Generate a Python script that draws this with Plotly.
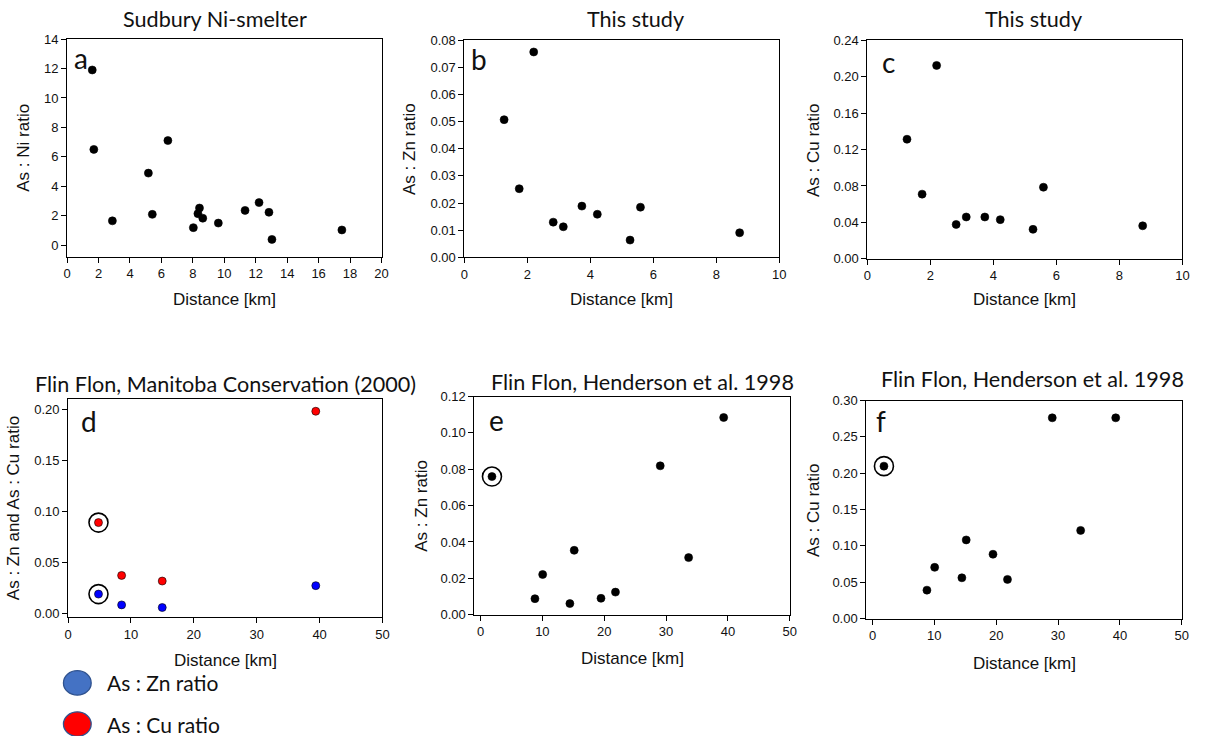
import plotly.graph_objects as go

# ---------------- data ----------------
# (a) Sudbury Ni-smelter
a_dist = [1.60, 1.70, 2.88, 5.17, 5.42, 6.41, 8.03, 8.32, 8.42, 8.63, 9.62, 11.32, 12.21, 12.84, 13.03, 17.48]
a_as_ni = [11.9, 6.51, 1.66, 4.90, 2.10, 7.11, 1.20, 2.15, 2.53, 1.84, 1.51, 2.37, 2.90, 2.24, 0.40, 1.04]
# (b), (c) This study
bc_dist = [1.26, 1.74, 2.20, 2.82, 3.14, 3.73, 4.22, 5.26, 5.59, 8.74]
b_as_zn = [0.0507, 0.0253, 0.0756, 0.0130, 0.0113, 0.0189, 0.0159, 0.0064, 0.0185, 0.0091]
c_as_cu = [0.1313, 0.0710, 0.2124, 0.0377, 0.0459, 0.0459, 0.0430, 0.0323, 0.0786, 0.0362]
# (d) Flin Flon, Manitoba Conservation (2000)
d_dist = [4.83, 8.51, 14.97, 39.39]
d_as_zn = [0.0186, 0.0080, 0.0054, 0.0269]
d_as_cu = [0.0888, 0.0369, 0.0314, 0.1981]
d_circled = [0]
# (e), (f) Flin Flon, Henderson et al. 1998
ef_dist = [1.85, 8.80, 10.05, 14.45, 15.15, 19.48, 21.82, 29.06, 33.65, 39.32]
e_as_zn = [0.0760, 0.0088, 0.0221, 0.0061, 0.0354, 0.0090, 0.0124, 0.0819, 0.0314, 0.1085]
f_as_cu = [0.2097, 0.0391, 0.0705, 0.0561, 0.1082, 0.0885, 0.0539, 0.2762, 0.1213, 0.2762]
ef_circled = [0]

titles = ["Sudbury Ni-smelter", "This study", "This study",
          "Flin Flon, Manitoba Conservation (2000)",
          "Flin Flon, Henderson et al. 1998", "Flin Flon, Henderson et al. 1998"]
letters = ["a", "b", "c", "d", "e", "f"]
ytitles = ["As : Ni ratio", "As : Zn ratio", "As : Cu ratio",
           "As : Zn and As : Cu ratio", "As : Zn ratio", "As : Cu ratio"]
legend_names = ["As : Zn ratio", "As : Cu ratio"]

# ---------------- layout geometry ----------------
PAGE_W, PAGE_H = 1214, 752
OFF = 8  # default page body margin
W, H = PAGE_W - 2 * OFF, PAGE_H - 2 * OFF


def px(p):
    return (p - OFF) / W


def py(p):
    return 1 - (p - OFF) / H


# plot frames in page pixels: (left, right, top, bottom)
frames = [(71.7, 389.0, 40.7, 263.0),
          (472.7, 790.5, 41.7, 263.7),
          (879.3, 1197.3, 42.0, 265.0),
          (72.7, 390.0, 408.3, 631.0),
          (482.7, 801.0, 405.7, 628.3),
          (878.3, 1196.7, 409.7, 632.3)]
xranges = [[0, 20], [0, 10], [0, 10], [0, 50], [-1.0, 50], [-1.0, 50]]
xdticks = [2, 2, 2, 10, 10, 10]
yranges = [[-0.78, 14], [0, 0.08], [0, 0.24], [-0.0042, 0.21], [0, 0.12], [0, 0.30]]
ydticks = [2, 0.01, 0.04, 0.05, 0.02, 0.05]
yformats = ["d", ".2f", ".2f", ".2f", ".2f", ".2f"]
xtitle_y = [307, 307, 307, 675, 673, 678]
ytitle_x = [28, 418, 825, 17, 430, 825]
title_pos = [(221, 20), (645, 20), (1047, 20), (232, 393), (652, 391), (1046, 388)]
letter_pos = [(86, 60), (487, 61), (901, 64), (94, 431), (505, 430), (893, 431)]

ARIAL = "Arial, Liberation Sans, sans-serif"
CAL = "Lato, Carlito, Calibri, sans-serif"

fig = go.Figure()


def dot(x, y, xa, ya, color="black", size=8):
    fig.add_trace(go.Scatter(x=x, y=y, mode="markers", xaxis=xa, yaxis=ya,
                             marker=dict(color=color, size=size,
                                         line=dict(color="black", width=0.6)),
                             showlegend=False, hoverinfo="x+y"))


def ring(x, y, xa, ya):
    fig.add_trace(go.Scatter(x=x, y=y, mode="markers", xaxis=xa, yaxis=ya,
                             marker=dict(symbol="circle-open", color="black", size=19,
                                         line=dict(width=1.6)),
                             showlegend=False, hoverinfo="skip"))


dot(a_dist, a_as_ni, "x", "y")
dot(bc_dist, b_as_zn, "x2", "y2")
dot(bc_dist, c_as_cu, "x3", "y3")
ring([d_dist[i] for i in d_circled] * 2,
     [d_as_cu[i] for i in d_circled] + [d_as_zn[i] for i in d_circled], "x4", "y4")
dot(d_dist, d_as_cu, "x4", "y4", color="#ff0000")
dot(d_dist, d_as_zn, "x4", "y4", color="#0000ff")
ring([ef_dist[i] for i in ef_circled], [e_as_zn[i] for i in ef_circled], "x5", "y5")
dot(ef_dist, e_as_zn, "x5", "y5")
ring([ef_dist[i] for i in ef_circled], [f_as_cu[i] for i in ef_circled], "x6", "y6")
dot(ef_dist, f_as_cu, "x6", "y6")

annotations = []
layout = {}
for i in range(6):
    l, r, t, b = frames[i]
    sfx = "" if i == 0 else str(i + 1)
    common = dict(showline=True, linecolor="black", linewidth=1, mirror=True,
                  ticks="outside", ticklen=5, tickwidth=1, tickcolor="black",
                  showgrid=False, zeroline=False,
                  tickfont=dict(family=ARIAL, size=13, color="#111"))
    layout["xaxis" + sfx] = dict(common, domain=[px(l), px(r)], anchor="y" + sfx,
                                 range=xranges[i], tick0=0, dtick=xdticks[i])
    layout["yaxis" + sfx] = dict(common, domain=[py(b), py(t)], anchor="x" + sfx,
                                 range=yranges[i], tick0=0, dtick=ydticks[i],
                                 tickformat=yformats[i])
    # x-axis title
    annotations.append(dict(text="Distance [km]", xref="paper", yref="paper",
                            x=px((l + r) / 2), y=py(xtitle_y[i]), showarrow=False,
                            xanchor="center", yanchor="middle",
                            font=dict(family=ARIAL, size=17, color="#111")))
    # y-axis title
    annotations.append(dict(text=ytitles[i], xref="paper", yref="paper",
                            x=px(ytitle_x[i]), y=py((t + b) / 2), showarrow=False,
                            textangle=-90, xanchor="center", yanchor="middle",
                            font=dict(family=ARIAL, size=17, color="#111")))
    # panel title
    tx, ty = title_pos[i]
    annotations.append(dict(text=titles[i], xref="paper", yref="paper",
                            x=px(tx), y=py(ty), showarrow=False,
                            xanchor="center", yanchor="middle",
                            font=dict(family=CAL, size=21.6, color="#111")))
    # panel letter
    lx, ly = letter_pos[i]
    annotations.append(dict(text=letters[i], xref="paper", yref="paper",
                            x=px(lx), y=py(ly), showarrow=False,
                            xanchor="center", yanchor="middle",
                            font=dict(family=CAL, size=28, color="#111")))

# legend for panel d
shapes = []
leg_colors = [("#4472c4", "#2f528f"), ("#ff0000", "#2f528f")]
leg_y = [698, 740]
for name, (fc, lc), cy in zip(legend_names, leg_colors, leg_y):
    shapes.append(dict(type="circle", xref="paper", yref="paper",
                       x0=px(82 - 14), x1=px(82 + 14),
                       y0=py(cy + 12.5), y1=py(cy - 12.5),
                       fillcolor=fc, line=dict(color=lc, width=1.3)))
    annotations.append(dict(text=name, xref="paper", yref="paper",
                            x=px(110), y=py(cy), showarrow=False,
                            xanchor="left", yanchor="middle",
                            font=dict(family=CAL, size=21, color="#111")))

fig.update_layout(width=W, height=H, margin=dict(l=0, r=0, t=0, b=0),
                  paper_bgcolor="white", plot_bgcolor="white",
                  annotations=annotations, shapes=shapes, showlegend=False,
                  **layout)

fig.write_html("out.html")
